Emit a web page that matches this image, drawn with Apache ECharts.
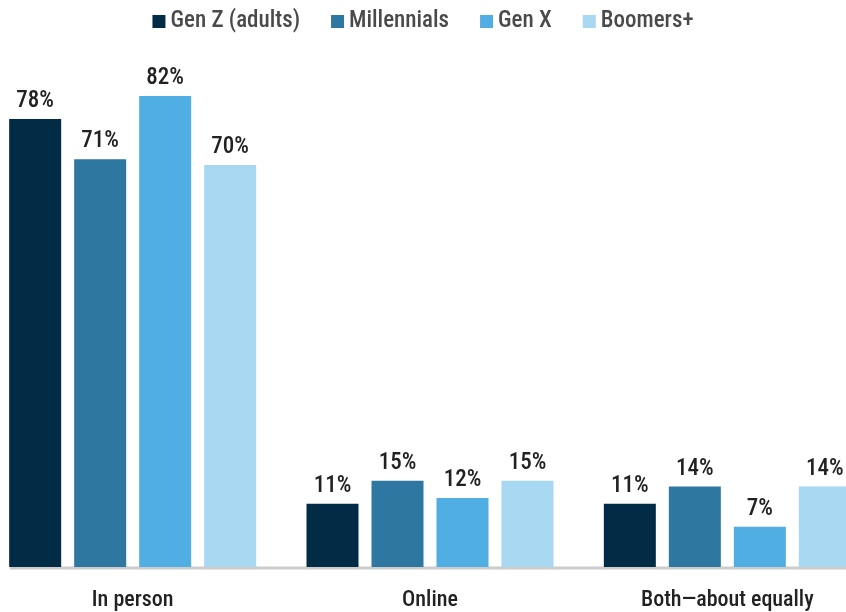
<!DOCTYPE html>
<html><head><meta charset="utf-8">
<script src="https://cdn.jsdelivr.net/npm/echarts@6/dist/echarts.min.js"></script>
<style>html,body{margin:0;padding:0;background:#fff}#c{width:846px;height:612px}</style>
</head><body><div id="c"></div>
<script>
const categories = ['In person', 'Online', 'Both\u2014about equally'];
const seriesNames = ['Gen Z (adults)', 'Millennials', 'Gen X', 'Boomers+'];
const genZ = [78, 11, 11];
const millennials = [71, 15, 14];
const genX = [82, 12, 7];
const boomers = [70, 15, 14];
const colors = ['#022B45', '#2E77A0', '#51AEE2', '#A8D7F1'];

const FONT = "'Roboto Condensed', 'Liberation Sans Narrow', 'Arial Narrow', sans-serif";
const values = [genZ, millennials, genX, boomers];
const chart = echarts.init(document.getElementById('c'));
chart.setOption({
  animation: false,
  legend: {
    top: 5, left: 'center', itemWidth: 13, itemHeight: 13, itemGap: 31,
    icon: 'rect',
    textStyle: { fontFamily: FONT, fontSize: 23, fontWeight: 500, color: '#4a4a4a' },
    data: seriesNames
  },
  grid: { left: -16, right: -30, top: 96, bottom: 45, outerBoundsMode: 'none', containLabel: false },
  xAxis: {
    type: 'category', data: categories,
    axisLine: { show: false }, axisTick: { show: false },
    axisLabel: { fontFamily: FONT, fontSize: 22, fontWeight: 500, color: '#222', margin: 22 }
  },
  yAxis: { type: 'value', min: 0, max: 82, show: false, splitLine: { show: false } },
  graphic: [{
    type: 'line', shape: { x1: 10, y1: 568, x2: 846, y2: 568 },
    style: { stroke: '#cccccc', lineWidth: 3 }
  }],
  series: seriesNames.map((n, i) => ({
    name: n, type: 'bar', data: values[i], barWidth: 52, barGap: '25%',
    itemStyle: { color: colors[i] },
    label: { show: true, position: 'top', distance: 6, formatter: '{c}%',
      fontFamily: FONT, fontSize: 23, fontWeight: 500, color: '#222' }
  }))
});
</script></body></html>
